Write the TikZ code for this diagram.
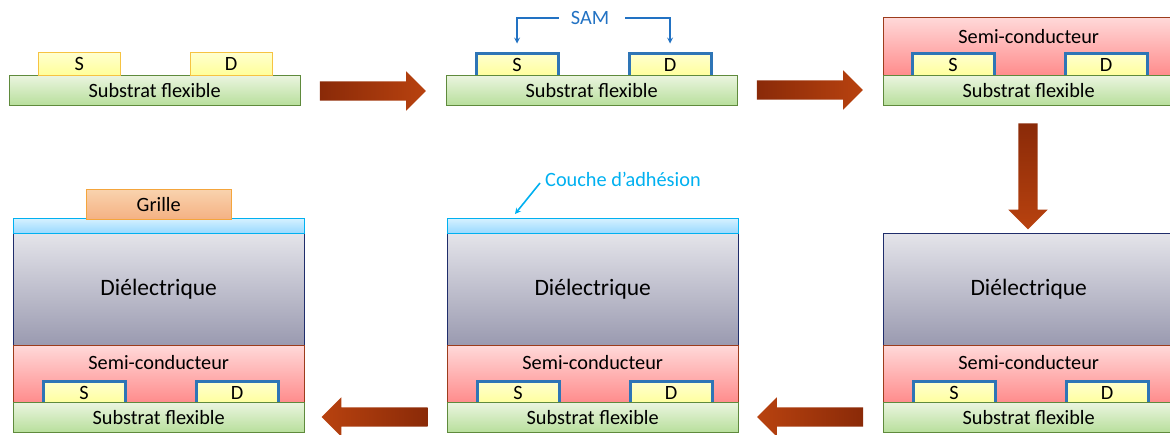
\documentclass[tikz,border=0pt]{standalone}
\usepackage{fontspec}
\setmainfont{Carlito}
\usetikzlibrary{shapes.arrows}

\definecolor{subtop}{HTML}{EBF5E0}
\definecolor{subbot}{HTML}{B8DF9C}
\definecolor{subdraw}{HTML}{5F8A3C}
\definecolor{padtop}{HTML}{FFFFD0}
\definecolor{padbot}{HTML}{FFFF99}
\definecolor{paddraw}{HTML}{F6C342}
\definecolor{samblue}{HTML}{2E75B6}
\definecolor{samtext}{HTML}{2272C3}
\definecolor{semitop}{HTML}{FFD9D9}
\definecolor{semibot}{HTML}{FF8C8C}
\definecolor{semidraw}{HTML}{9C3C1C}
\definecolor{dieltop}{HTML}{E4E4EA}
\definecolor{dielbot}{HTML}{9A9AB0}
\definecolor{dieldraw}{HTML}{1F2D6B}
\definecolor{adhtop}{HTML}{D6F1FF}
\definecolor{adhbot}{HTML}{99D9FF}
\definecolor{adhdraw}{HTML}{00B0F0}
\definecolor{grtop}{HTML}{F9D3AE}
\definecolor{grbot}{HTML}{F4B183}
\definecolor{grdraw}{HTML}{F4A53C}
\definecolor{arrdark}{HTML}{8A2A08}
\definecolor{arrlight}{HTML}{B8420F}

\begin{document}
\begin{tikzpicture}[x=1pt,y=-1pt,>=stealth,
  every node/.style={font=\fontsize{20.3}{23}\selectfont,inner sep=0pt},
  box/.style={anchor=north west,minimum width=291pt},
  subst/.style={box,draw=subdraw,top color=subtop,bottom color=subbot,minimum height=30pt},
  semi/.style={box,draw=semidraw,top color=semitop,bottom color=semibot,minimum height=57pt},
  diel/.style={box,draw=dieldraw,top color=dieltop,bottom color=dielbot,minimum height=112pt},
  adh/.style={box,draw=adhdraw,top color=adhtop,bottom color=adhbot,minimum height=15pt},
  pad/.style={anchor=north west,draw=paddraw,top color=padtop,bottom color=padbot,minimum width=82pt,minimum height=23pt},
  sampad/.style={anchor=north west,draw=samblue,line width=3pt,top color=padtop,bottom color=padbot,minimum width=82pt,minimum height=24pt},
  bigarrow/.style={single arrow,single arrow head extend=10pt,inner sep=9.5pt,minimum height=106pt},
  samline/.style={draw=samtext,line width=1.6pt}]
  \useasboundingbox (0,0) rectangle (1170,434);

  % etape 1 : source et drain
  \node[subst] (sub1) at (9,75) {Substrat flexible};
  \node[pad] (s1) at (38,52) {S};
  \node[pad] (d1) at (190,52) {D};

  % etape 2 : SAM
  \node[sampad] (s2) at (474.5,51.5) {S};
  \node[sampad] (d2) at (627.5,51.5) {D};
  \node[subst] (sub2) at (446,75) {Substrat flexible};
  \node[text=samtext] (sam) at (590,18) {SAM};
  \draw[samline,->,shorten <=12pt,shorten >=8pt] (sam.west) -| (s2.north);
  \draw[samline,->,shorten <=16pt,shorten >=8pt] (sam.east) -| (d2.north);

  % etape 3 : semi-conducteur
  \node[semi,minimum height=58pt] (sc3) at (883,17) {};
  \node (tsc3) at ([yshift=-20pt]sc3.north) {Semi-conducteur};
  \node[sampad] (s3) at (910.5,51.5) {S};
  \node[sampad] (d3) at (1063.5,51.5) {D};
  \node[subst] (sub3) at (883,75) {Substrat flexible};

  % etapes 4 a 6
  \foreach \x/\i in {883/6,447/5,13/4} {
    \node[diel] (di\i) at (\x,233) {\fontsize{23.5}{26}\selectfont Diélectrique};
    \node[semi] (sc\i) at (\x,345) {};
    \node (tsc\i) at ([yshift=-18pt]sc\i.north) {Semi-conducteur};
    \node[sampad] (s\i) at (\x+28.5,379.5) {S};
    \node[sampad] (d\i) at (\x+181.5,379.5) {D};
    \node[subst] (sub\i) at (\x,402) {Substrat flexible};
  }
  \node[adh] (adh5) at (447,218) {};
  \node[adh] (adh4) at (13,218) {};
  \node[anchor=north west,draw=grdraw,top color=grtop,bottom color=grbot,
    minimum width=145pt,minimum height=30pt] (gr4) at (86,189) {Grille};

  \node[text=adhdraw,anchor=west] (couche) at (545,179) {Couche d’adhésion};
  \coordinate (adhpt) at (515,214);
  \draw[adhdraw,line width=1.6pt,->] ([xshift=-5pt,yshift=-4pt]couche.west) -- (adhpt);

  % fleches
  \node[bigarrow,left color=arrdark,right color=arrlight] (a1) at (368,91) {};
  \node[bigarrow,left color=arrdark,right color=arrlight] (a2) at (805,90) {};
  \node[bigarrow,shape border rotate=270,top color=arrdark,bottom color=arrlight] (a3) at (1028,171.5) {};
  \node[bigarrow,shape border rotate=180,left color=arrlight,right color=arrdark] (a4) at (815,417) {};
  \node[bigarrow,shape border rotate=180,left color=arrlight,right color=arrdark] (a5) at (379.5,417) {};
\end{tikzpicture}
\end{document}
